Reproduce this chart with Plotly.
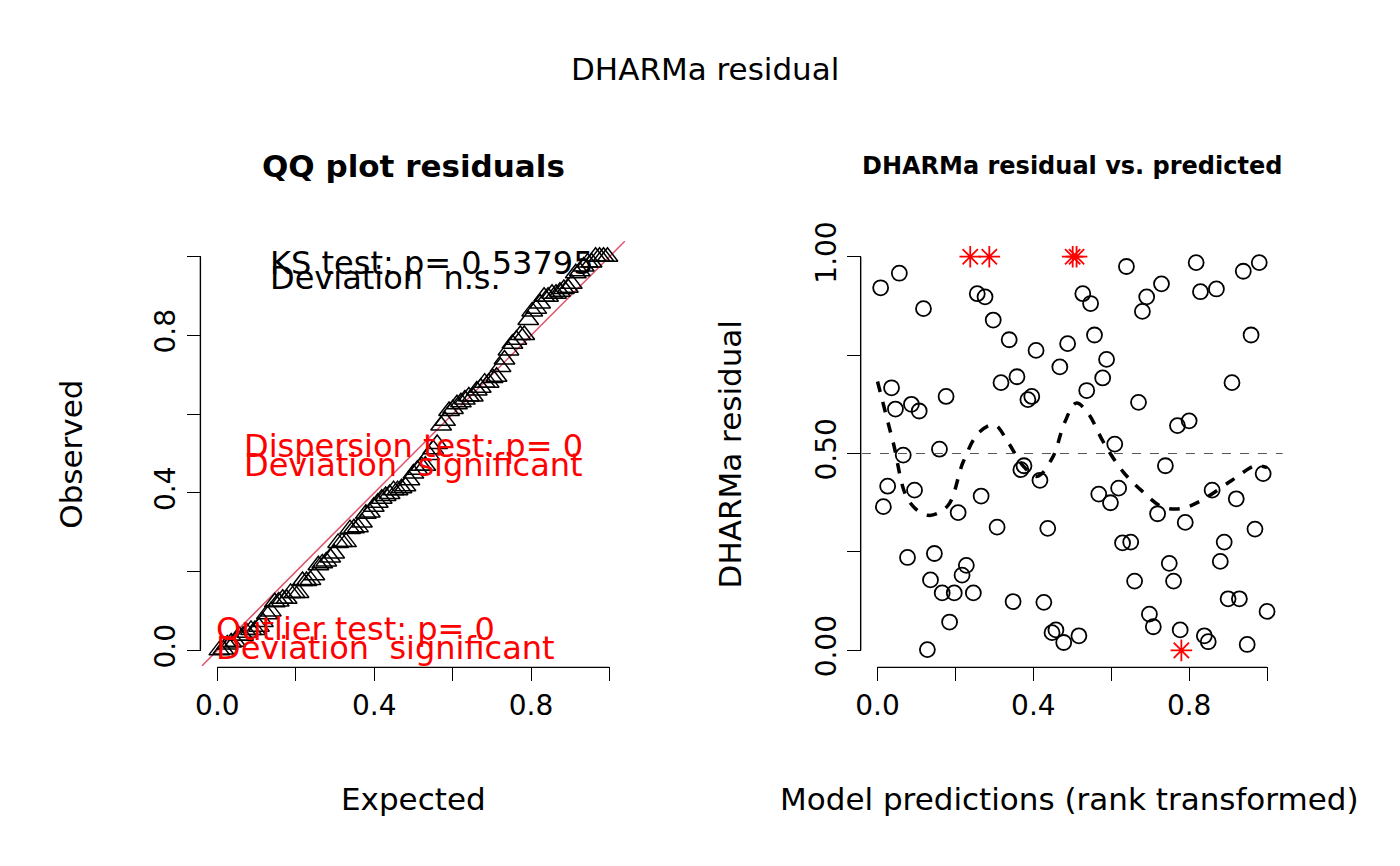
import plotly.graph_objects as go

# residuals vs. rank-transformed predictions
pred = [0.008, 0.015, 0.026, 0.036, 0.046, 0.056, 0.066, 0.077, 0.087, 0.095, 0.107, 0.118,
        0.128, 0.136, 0.146, 0.159, 0.166, 0.176, 0.185, 0.197, 0.207, 0.217, 0.228, 0.246,
        0.256, 0.266, 0.276, 0.297, 0.307, 0.317, 0.338, 0.348, 0.358, 0.368, 0.376, 0.386,
        0.396, 0.407, 0.417, 0.427, 0.437, 0.448, 0.458, 0.468, 0.478, 0.488, 0.517, 0.527,
        0.537, 0.547, 0.557, 0.568, 0.578, 0.588, 0.598, 0.609, 0.619, 0.629, 0.639, 0.650,
        0.660, 0.670, 0.680, 0.691, 0.698, 0.708, 0.719, 0.729, 0.739, 0.749, 0.760, 0.770,
        0.777, 0.790, 0.800, 0.818, 0.829, 0.839, 0.849, 0.859, 0.870, 0.880, 0.890, 0.900,
        0.910, 0.921, 0.929, 0.939, 0.949, 0.959, 0.969, 0.980, 0.990, 1.000]
resid = [0.921, 0.365, 0.417, 0.667, 0.613, 0.958, 0.496, 0.236, 0.625, 0.407, 0.608, 0.868,
         0.002, 0.179, 0.246, 0.511, 0.146, 0.645, 0.072, 0.146, 0.350, 0.191, 0.216, 0.146,
         0.906, 0.392, 0.898, 0.839, 0.313, 0.680, 0.789, 0.124, 0.695, 0.459, 0.469, 0.637,
         0.645, 0.762, 0.432, 0.122, 0.310, 0.045, 0.052, 0.720, 0.020, 0.779, 0.037, 0.906,
         0.660, 0.881, 0.801, 0.397, 0.692, 0.739, 0.375, 0.524, 0.412, 0.273, 0.975, 0.275,
         0.176, 0.630, 0.861, 0.898, 0.092, 0.060, 0.347, 0.931, 0.469, 0.221, 0.176, 0.571,
         0.052, 0.325, 0.583, 0.985, 0.911, 0.037, 0.022, 0.407, 0.918, 0.226, 0.275, 0.131,
         0.680, 0.385, 0.131, 0.963, 0.015, 0.801, 0.308, 0.985, 0.449, 0.099]
out_x = [0.238, 0.287, 0.501, 0.511, 0.780]
out_y = [1.0, 1.0, 1.0, 1.0, 0.0]

smooth_x = [0.0, 0.04, 0.08, 0.13, 0.18, 0.22, 0.26, 0.30, 0.335, 0.375, 0.41, 0.45, 0.48,
            0.51, 0.54, 0.58, 0.63, 0.68, 0.73, 0.78, 0.83, 0.91, 0.97, 1.0]
smooth_y = [0.683, 0.529, 0.380, 0.343, 0.367, 0.479, 0.553, 0.573, 0.529, 0.467, 0.442, 0.491,
            0.578, 0.628, 0.603, 0.529, 0.454, 0.404, 0.365, 0.360, 0.380, 0.432, 0.469, 0.464]

# QQ: sorted residuals against uniform quantiles
all_res = sorted(resid + out_y)
n = len(all_res)
expected = [(i + 0.5) / n for i in range(n)]

FONT = "DejaVu Sans"
fig = go.Figure()

fig.add_trace(go.Scatter(x=[-0.05, 1.05], y=[-0.05, 1.05], mode="lines",
                         line=dict(color="#DF536B", width=1.5), xaxis="x", yaxis="y"))
fig.add_trace(go.Scatter(x=expected, y=all_res, mode="markers",
                         marker=dict(symbol="triangle-up-open", size=18, color="black",
                                     line=dict(width=1.5)), xaxis="x", yaxis="y"))

fig.add_trace(go.Scatter(x=pred, y=resid, mode="markers",
                         marker=dict(symbol="circle-open", size=15, color="black",
                                     line=dict(width=1.8)), xaxis="x2", yaxis="y2"))
fig.add_trace(go.Scatter(x=out_x, y=out_y, mode="markers",
                         marker=dict(symbol="asterisk-open", size=18, color="red",
                                     line=dict(width=1.8, color="red")), xaxis="x2", yaxis="y2"))
fig.add_trace(go.Scatter(x=smooth_x, y=smooth_y, mode="lines", line_shape="spline",
                         line=dict(color="black", width=3.5, dash="dash"), xaxis="x2", yaxis="y2"))

ax = dict(range=[-0.04, 1.04], showgrid=False, zeroline=False, showline=False,
          ticks="outside", ticklen=14, tickwidth=1.4, tickcolor="black",
          tickfont=dict(family=FONT, size=28, color="black"))
xt = dict(tickvals=[0, 0.2, 0.4, 0.6, 0.8, 1.0], ticktext=["0.0", "", "0.4", "", "0.8", ""])
YD = [0.2355, 0.7441]
fig.update_layout(
    xaxis=dict(ax, domain=[0.134, 0.438], anchor="y", **xt),
    yaxis=dict(ax, domain=YD, anchor="x", tickangle=-90,
               tickvals=[0, 0.2, 0.4, 0.6, 0.8, 1.0], ticktext=["0.0", "", "0.4", "", "0.8", ""]),
    xaxis2=dict(ax, domain=[0.608, 0.910], anchor="y2", **xt),
    yaxis2=dict(ax, domain=YD, anchor="x2", tickangle=-90,
                tickvals=[0, 0.25, 0.5, 0.75, 1.0], ticktext=["0.00", "", "0.50", "", "1.00"]),
    width=1400, height=866, showlegend=False,
    margin=dict(l=0, r=0, t=0, b=0),
    plot_bgcolor="white", paper_bgcolor="white",
)

# R-style axis lines spanning only first to last tick
for xr, yr in [("x", "y"), ("x2", "y2")]:
    fig.add_shape(type="line", xref=xr, yref=yr + " domain", x0=0, x1=1, y0=-0.003, y1=-0.003,
                  line=dict(color="black", width=1.4))
    fig.add_shape(type="line", xref=xr + " domain", yref=yr, x0=-0.003, x1=-0.003, y0=0, y1=1,
                  line=dict(color="black", width=1.4))
fig.add_shape(type="line", xref="x2 domain", yref="y2", x0=0, x1=1, y0=0.5, y1=0.5,
              line=dict(color="#555555", width=1, dash="dash"))

def px_x(px):
    return px / 1400 - 0.005

def px_y(py):
    return 0.2461 + (660 - py) / 855.6

def txt(s, x, y, size=32, color="black", bold=False, angle=0, xanchor="center", xref="paper", yref="paper"):
    fig.add_annotation(text=f"<b>{s}</b>" if bold else s, x=x, y=y, xref=xref, yref=yref,
                       showarrow=False, xanchor=xanchor, yanchor="middle", textangle=angle,
                       font=dict(family=FONT, size=size, color=color))

txt("DHARMa residual", px_x(700), px_y(58), size=31)
txt("QQ plot residuals", px_x(408), px_y(157), size=31, bold=True)
txt("DHARMa residual vs. predicted", px_x(1069), px_y(157), size=24, bold=True)
txt("Expected", px_x(408), px_y(805), size=31)
txt("Observed", px_x(63), px_y(452), size=31, angle=-90)
txt("Model predictions (rank transformed)", px_x(1067), px_y(805), size=31)
txt("DHARMa residual", px_x(726), px_y(452), size=31, angle=-90)

txt("KS test: p= 0.53795", 0.13, 0.985, xanchor="left", xref="x", yref="y")
txt("Deviation  n.s.", 0.13, 0.945, xanchor="left", xref="x", yref="y")
txt("Dispersion test: p= 0", 0.063, 0.52, color="red", xanchor="left", xref="x", yref="y")
txt("Deviation  significant", 0.063, 0.47, color="red", xanchor="left", xref="x", yref="y")
txt("Outlier test: p= 0", -0.008, 0.055, color="red", xanchor="left", xref="x", yref="y")
txt("Deviation  significant", -0.008, 0.005, color="red", xanchor="left", xref="x", yref="y")

fig.write_html("out.html")
